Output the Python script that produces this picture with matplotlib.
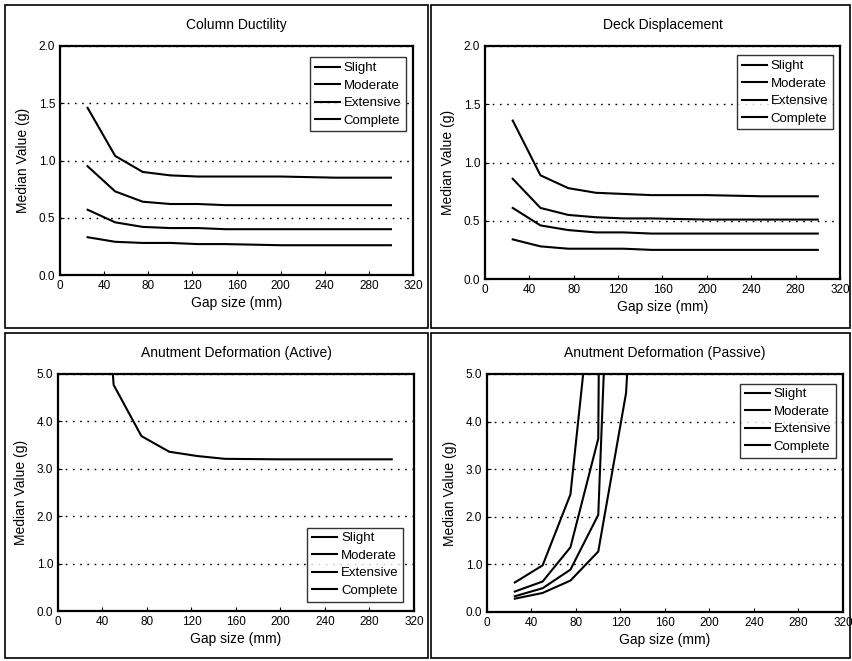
import numpy as np
import matplotlib
matplotlib.use('Agg')
import matplotlib.pyplot as plt
from matplotlib.patches import Rectangle
from matplotlib.ticker import FormatStrFormatter

plt.rcParams['font.family'] = ['Liberation Sans', 'DejaVu Sans']

nan = np.nan
gap = [25, 50, 75, 100, 125, 150, 200, 250, 300]
states = ['Slight', 'Moderate', 'Extensive', 'Complete']

# Column ductility
col_slight = [0.33, 0.29, 0.28, 0.28, 0.27, 0.27, 0.26, 0.26, 0.26]
col_moderate = [0.57, 0.46, 0.42, 0.41, 0.41, 0.40, 0.40, 0.40, 0.40]
col_extensive = [0.95, 0.73, 0.64, 0.62, 0.62, 0.61, 0.61, 0.61, 0.61]
col_complete = [1.46, 1.04, 0.90, 0.87, 0.86, 0.86, 0.86, 0.85, 0.85]

# Deck displacement
deck_slight = [0.34, 0.28, 0.26, 0.26, 0.26, 0.25, 0.25, 0.25, 0.25]
deck_moderate = [0.61, 0.46, 0.42, 0.40, 0.40, 0.39, 0.39, 0.39, 0.39]
deck_extensive = [0.86, 0.61, 0.55, 0.53, 0.52, 0.52, 0.51, 0.51, 0.51]
deck_complete = [1.36, 0.89, 0.78, 0.74, 0.73, 0.72, 0.72, 0.71, 0.71]

# Abutment (active) - only one curve falls inside the 0-5 range
act_slight = [13.0, 4.77, 3.69, 3.36, 3.27, 3.21, 3.20, 3.20, 3.20]
act_moderate = [nan] * 9
act_extensive = [nan] * 9
act_complete = [nan] * 9

# Abutment (passive)
pas_slight = [0.28, 0.40, 0.66, 1.27, 4.6, 15.0, nan, nan, nan]
pas_moderate = [0.33, 0.50, 0.89, 2.04, 17.0, nan, nan, nan, nan]
pas_extensive = [0.43, 0.64, 1.36, 3.64, 80.0, nan, nan, nan, nan]
pas_complete = [0.62, 0.98, 2.47, 8.0, nan, nan, nan, nan, nan]

W, H = 853, 661
fig = plt.figure(figsize=(W / 100, H / 100), dpi=100)


def px_axes(left, top, right, bottom):
    return fig.add_axes([left / W, 1 - bottom / H, (right - left) / W, (bottom - top) / H])


def panel_box(left, top, right, bottom):
    fig.patches.append(Rectangle((left / W, 1 - bottom / H), (right - left) / W,
                                 (bottom - top) / H, transform=fig.transFigure,
                                 fill=False, edgecolor='black', linewidth=1.2))


def draw(ax, series, title, ymax, ystep, loc, anchor):
    for vals, name in zip(series, states):
        ax.plot(gap, vals, color='black', linewidth=1.5, label=name)
    ax.set_xlim(0, 320)
    ax.set_ylim(0, ymax)
    ax.set_xticks(range(0, 321, 40))
    ax.set_yticks(np.arange(0, ymax + 1e-9, ystep))
    ax.yaxis.set_major_formatter(FormatStrFormatter('%.1f'))
    ax.tick_params(direction='in', length=3, labelsize=8.5, width=0.8)
    ax.grid(axis='y', linestyle=(0, (1.2, 4)), color='black', linewidth=1.0)
    for s in ax.spines.values():
        s.set_linewidth(1.6)
    ax.set_title(title, fontsize=10, pad=12)
    ax.set_xlabel('Gap size (mm)', fontsize=10, labelpad=3)
    ax.set_ylabel('Median Value (g)', fontsize=10, labelpad=6)
    leg = ax.legend(loc=loc, bbox_to_anchor=anchor, fontsize=9.5, frameon=True,
                    fancybox=False, edgecolor='black', handlelength=1.9,
                    handletextpad=0.3, labelspacing=0.4, borderpad=0.35,
                    borderaxespad=0)
    leg.get_frame().set_linewidth(1.0)


panel_box(5, 5, 428, 328)
panel_box(431, 5, 850, 328)
panel_box(5, 333, 428, 658)
panel_box(431, 333, 850, 658)

ax1 = px_axes(60, 46, 413, 275)
draw(ax1, [col_slight, col_moderate, col_extensive, col_complete],
     'Column Ductility', 2.0, 0.5, 'upper right', (0.98, 0.95))

ax2 = px_axes(485, 46, 840, 279)
draw(ax2, [deck_slight, deck_moderate, deck_extensive, deck_complete],
     'Deck Displacement', 2.0, 0.5, 'upper right', (0.98, 0.96))

ax3 = px_axes(58, 374, 414, 611)
draw(ax3, [act_slight, act_moderate, act_extensive, act_complete],
     'Anutment Deformation (Active)', 5.0, 1.0, 'lower right', (0.97, 0.04))

ax4 = px_axes(487, 374, 843, 612)
draw(ax4, [pas_slight, pas_moderate, pas_extensive, pas_complete],
     'Anutment Deformation (Passive)', 5.0, 1.0, 'upper right', (0.98, 0.96))

fig.savefig('out.png', dpi=100)
